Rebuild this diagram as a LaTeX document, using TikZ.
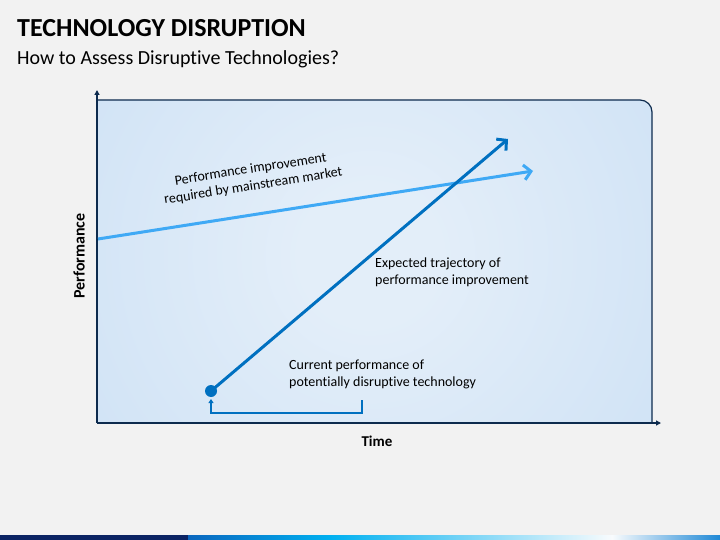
\documentclass[tikz,border=0pt]{standalone}
\usepackage{fontspec}
\setmainfont[Ligatures=NoCommon]{Carlito}
\usetikzlibrary{arrows.meta}
\definecolor{bgcol}{HTML}{F2F2F2}
\definecolor{axiscol}{HTML}{0D2B4E}
\definecolor{darkblue}{HTML}{0070C0}
\definecolor{lightblue}{HTML}{3FA9F5}
\definecolor{shadein}{HTML}{E3EEF9}
\definecolor{shadeout}{HTML}{B9D5F1}
\definecolor{navy}{HTML}{0B2363}
\definecolor{bbA}{HTML}{0A66BE}
\definecolor{bbB}{HTML}{00B0F0}
\definecolor{bbC}{HTML}{F8FBFD}
\definecolor{bbD}{HTML}{1E88D6}
\pgfdeclareradialshading{chartshade}{\pgfpoint{0bp}{0bp}}{color(0bp)=(shadein); color(5bp)=(shadein); color(50bp)=(shadeout)}
\tikzset{
  axis/.style={draw=axiscol, line width=2pt, -{Triangle[length=5pt,width=5pt]}},
  lbline/.style={draw=lightblue, line width=3pt, -{Straight Barb[length=7pt,width=15pt]}},
  dbline/.style={draw=darkblue, line width=3pt, -{Straight Barb[length=7pt,width=15pt]}},
  lbl/.style={font=\fontsize{14}{17}\selectfont, text=black, align=left, inner sep=0pt},
}
\begin{document}
\begin{tikzpicture}[x=1pt,y=-1pt]
\fill[bgcol] (0,0) rectangle (720,540);
\useasboundingbox (0,0) rectangle (720,540);
% title
\node[anchor=west, inner sep=0pt, font=\fontsize{26}{30}\bfseries\selectfont] (title) at (17,28) {TECHNOLOGY DISRUPTION};
\node[anchor=west, inner sep=0pt, font=\fontsize{20}{24}\selectfont] (subtitle) at (17,59) {How to Assess Disruptive Technologies?};
% chart area
\begin{scope}
\clip (97,423) -- (97,100) -- (640,100) .. controls (646.6,100) and (652,105.4) .. (652,112) -- (652,423) -- cycle;
\shade[shading=chartshade] (30,-85) rectangle (710,595);
\end{scope}
\draw[axiscol, line width=1.2pt] (97,100) -- (640,100) .. controls (646.6,100) and (652,105.4) .. (652,112) -- (652,423);
% axes
\coordinate (origin) at (97,423);
\coordinate (ytop) at (97,90);
\coordinate (xend) at (661,423);
\draw[axis] (origin) -- (ytop);
\draw[axis] (origin) -- (xend);
% lines
\coordinate (lbStart) at (98,239);
\coordinate (lbEnd) at (533,171);
\draw[lbline] (lbStart) -- (lbEnd);
\node[circle, fill=darkblue, minimum size=12pt, inner sep=0pt] (dot) at (211,391) {};
\coordinate (dbEnd) at (508,139);
\draw[dbline] (dot.center) -- (dbEnd);
% bracket
\coordinate (brA) at (362,400);
\coordinate (brB) at (211,399);
\draw[darkblue, line width=2pt, -{Triangle[length=4pt,width=5pt]}] (brA) -- (362,413) -- (211,413) -- (brB);
% labels
\node[lbl, align=center, rotate=8.9] (lbLabel) at (252,178) {Performance improvement\\required by mainstream market};
\node[lbl, anchor=north west] (dbLabel) at (375,258) {Expected trajectory of\\performance improvement};
\node[lbl, anchor=north west] (curLabel) at (289,360) {Current performance of\\potentially disruptive technology};
\node[lbl, font=\fontsize{16}{18}\bfseries\selectfont, rotate=90] (ylabel) at (79,256) {Performance};
\node[lbl, font=\fontsize{15}{18}\bfseries\selectfont] (xlabel) at (377,441) {Time};
% bottom bar
\fill[navy] (0,535) rectangle (188,540);
\shade[left color=bbA, right color=bbB] (188,535) rectangle (330,540);
\shade[left color=bbB, right color=bbC] (330,535) rectangle (612,540);
\shade[left color=bbC, right color=bbD] (612,535) rectangle (720.5,540);
\end{tikzpicture}
\end{document}
